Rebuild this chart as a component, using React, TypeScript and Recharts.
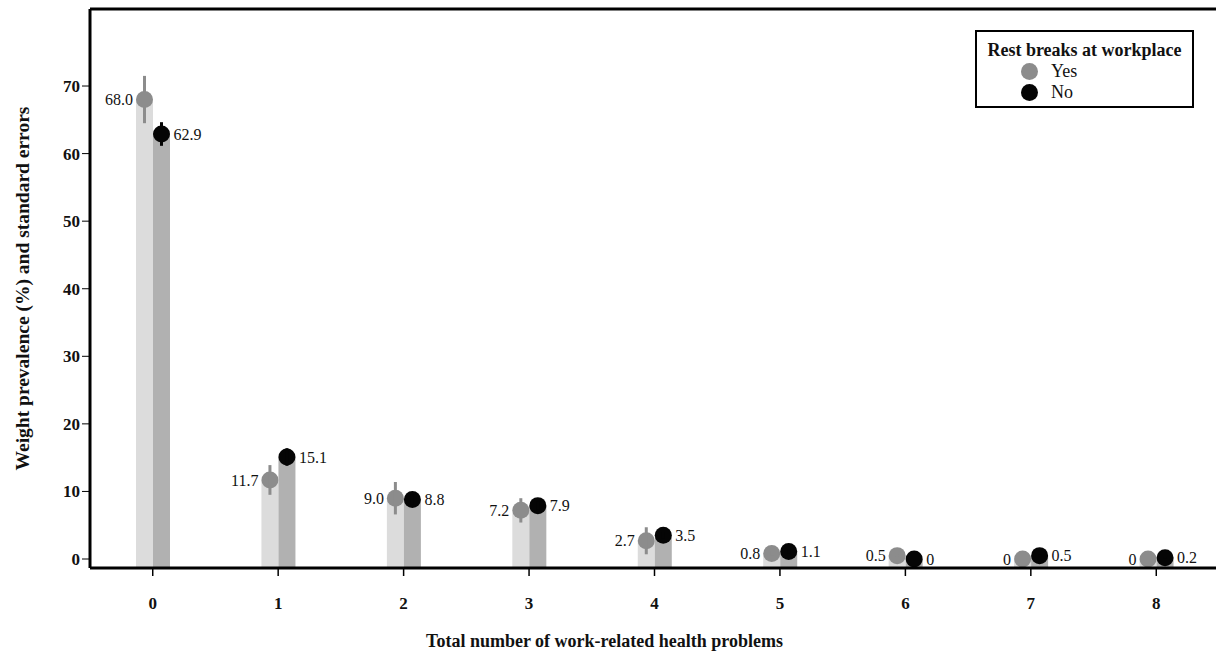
import type { ReactElement } from "react";
import {
  Bar,
  ComposedChart,
  ErrorBar,
  Label,
  LabelList,
  Legend,
  ReferenceLine,
  XAxis,
  YAxis,
} from "recharts";

const CATEGORIES = ["0", "1", "2", "3", "4", "5", "6", "7", "8"];
const YES = [68.0, 11.7, 9.0, 7.2, 2.7, 0.8, 0.5, 0, 0];
const NO = [62.9, 15.1, 8.8, 7.9, 3.5, 1.1, 0, 0.5, 0.2];
const YES_SE = [3.5, 2.2, 2.4, 1.8, 2.0, 0.3, 0.2, 0, 0];
const NO_SE = [1.75, 1.3, 0.8, 0.6, 0.5, 0.3, 0, 0.2, 0.1];
const Y_TICKS = [0, 10, 20, 30, 40, 50, 60, 70];
const Y_MIN = -1.33;
const Y_MAX = 81.4;

const data = CATEGORIES.map((cat, i) => ({
  cat,
  yes: YES[i],
  no: NO[i],
  yesSe: YES_SE[i],
  noSe: NO_SE[i],
}));

const SERIF = "'Liberation Serif', 'Times New Roman', serif";
const TICK = { fill: "#111", fontSize: 17, fontWeight: 700, fontFamily: SERIF };

const YES_BAR = "#dcdcdc";
const NO_BAR = "#b1b1b1";
const YES_DOT = "#8c8c8c";
const NO_DOT = "#050505";
const DOT_R = 8.5;

const fmt = (v: number) => (v === 0 ? "0" : v.toFixed(1));

function barWithDot(fill: string, dot: string) {
  return (props: any) => {
    const { x, y, width, height } = props;
    return (
      <g>
        <rect x={x} y={y} width={width} height={height} fill={fill} />
        <circle cx={x + width / 2} cy={y} r={DOT_R} fill={dot} />
      </g>
    );
  };
}

function sideLabel(side: "left" | "right") {
  return (props: any) => {
    const { x, y, width, value } = props;
    const cx = x + width / 2;
    return (
      <text
        x={side === "left" ? cx - 11.5 : cx + 12}
        y={y}
        dy="0.35em"
        textAnchor={side === "left" ? "end" : "start"}
        fontFamily={SERIF}
        fontSize={16}
        fill="#111"
      >
        {fmt(Number(value))}
      </text>
    );
  };
}

function LegendBox(): ReactElement {
  const item = (color: string, text: string) => (
    <div style={{ display: "flex", alignItems: "center", height: 21, paddingLeft: 44 }}>
      <span
        style={{
          width: 17,
          height: 17,
          borderRadius: "50%",
          background: color,
          display: "inline-block",
        }}
      />
      <span style={{ marginLeft: 13, fontSize: 18 }}>{text}</span>
    </div>
  );
  return (
    <div
      style={{
        border: "2px solid #000",
        width: 219,
        height: 78,
        boxSizing: "border-box",
        fontFamily: SERIF,
        color: "#111",
        background: "#fff",
        paddingTop: 7,
      }}
    >
      <div style={{ fontWeight: 700, fontSize: 18, textAlign: "center", lineHeight: "22px" }}>
        Rest breaks at workplace
      </div>
      {item(YES_DOT, "Yes")}
      {item(NO_DOT, "No")}
    </div>
  );
}

export default function App(): ReactElement {
  return (
    <div
      style={{
        position: "absolute",
        left: 0,
        top: 0,
        width: 1216,
        height: 652,
        overflow: "hidden",
        background: "#fff",
      }}
    >
      <ComposedChart
        width={1220}
        height={652}
        data={data}
        margin={{ top: 9, right: 1, bottom: 0, left: 0 }}
        barGap={0}
      >
        <XAxis
          dataKey="cat"
          height={84}
          axisLine={{ stroke: "#000", strokeWidth: 3 }}
          tickLine={{ stroke: "#000", strokeWidth: 1.5 }}
          tickSize={8}
          tickMargin={21}
          tick={TICK}
        >
          <Label
            value="Total number of work-related health problems"
            position="insideBottom"
            offset={5}
            dx={-50}
            style={{ fontFamily: SERIF, fontSize: 18, fontWeight: 700, fill: "#111" }}
          />
        </XAxis>
        <YAxis
          width={90}
          domain={[Y_MIN, Y_MAX]}
          allowDataOverflow
          ticks={Y_TICKS}
          axisLine={{ stroke: "#000", strokeWidth: 3 }}
          tickLine={{ stroke: "#000", strokeWidth: 1 }}
          tickSize={8}
          tick={TICK}
        >
          <Label
            content={(props: any) => {
              const vb = props.viewBox;
              const cx = 22;
              const cy = vb.y + vb.height / 2;
              return (
                <text
                  x={cx}
                  y={cy}
                  transform={`rotate(-90 ${cx} ${cy})`}
                  textAnchor="middle"
                  dominantBaseline="central"
                  fontFamily={SERIF}
                  fontSize={19.5}
                  fontWeight={700}
                  fill="#111"
                >
                  Weight prevalence (%) and standard errors
                </text>
              );
            }}
          />
        </YAxis>
        <ReferenceLine y={Y_MAX} stroke="#000" strokeWidth={3} ifOverflow="extendDomain" />
        <Legend
          layout="vertical"
          align="center"
          verticalAlign="middle"
          content={() => <LegendBox />}
          wrapperStyle={{ left: 975, top: 30, width: 219, height: 78 }}
        />
        <Bar
          dataKey={(d: any) => [Y_MIN, d.yes]}
          name="Yes"
          barSize={17}
          shape={barWithDot(YES_BAR, YES_DOT)}
          isAnimationActive={false}
        >
          <ErrorBar dataKey="yesSe" width={0} stroke={YES_DOT} strokeWidth={3} direction="y" />
          <LabelList dataKey="yes" content={sideLabel("left")} />
        </Bar>
        <Bar
          dataKey={(d: any) => [Y_MIN, d.no]}
          name="No"
          barSize={17}
          shape={barWithDot(NO_BAR, NO_DOT)}
          isAnimationActive={false}
        >
          <ErrorBar dataKey="noSe" width={0} stroke={NO_DOT} strokeWidth={3} direction="y" />
          <LabelList dataKey="no" content={sideLabel("right")} />
        </Bar>
      </ComposedChart>
    </div>
  );
}
